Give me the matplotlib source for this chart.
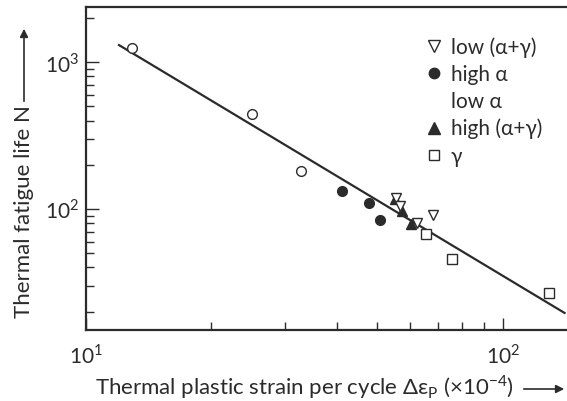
import matplotlib
matplotlib.use("Agg")
import matplotlib.pyplot as plt
from matplotlib.lines import Line2D
from matplotlib.ticker import LogLocator, NullFormatter

plt.rcParams['font.family'] = ['Lato', 'DejaVu Sans']
plt.rcParams['mathtext.fontset'] = 'custom'
plt.rcParams['mathtext.rm'] = 'Lato'

INK = "#2b2b2b"

# data (strain x1e-4, cycles)
low_a_x = [12.9, 25.0, 32.8]
low_a_y = [1245, 443, 181]

high_a_x = [41.1, 47.7, 50.7]
high_a_y = [132, 110, 84]

high_ag_x = [55.1, 57.3, 60.1]
high_ag_y = [117, 97, 79]

low_ag_x = [55.4, 56.6, 62.2, 67.9]
low_ag_y = [119, 105, 80, 91]

gamma_x = [65.3, 75.5, 128.9]
gamma_y = [67.6, 45.7, 26.8]

fit_x = [12.0, 140.8]
fit_y = [1305, 19.6]

fig = plt.figure(figsize=(5.67, 4.01), dpi=100)
ax = fig.add_axes([86 / 567, 71 / 401, 490 / 567, 323 / 401])

ax.plot(fit_x, fit_y, color=INK, lw=1.6, zorder=2)
ax.plot(low_a_x, low_a_y, 'o', ms=7, mfc='white', mec=INK, mew=1.0, zorder=3)
ax.plot(high_a_x, high_a_y, 'o', ms=7, mfc=INK, mec=INK, zorder=3)
ax.plot(high_ag_x, high_ag_y, '^', ms=7, mfc=INK, mec=INK, zorder=3)
ax.plot(low_ag_x, low_ag_y, 'v', ms=7.5, mfc='white', mec=INK, mew=1.0, zorder=4)
ax.plot(gamma_x, gamma_y, 's', ms=7, mfc='white', mec=INK, mew=1.0, zorder=3)

ax.set_xscale('log')
ax.set_yscale('log')
ax.set_xlim(10, 150)
ax.set_ylim(15, 2370)

ax.set_xticks([10, 100])
ax.set_xticklabels(['$10^1$', '$10^2$'])
ax.set_yticks([100, 1000])
ax.set_yticklabels(['$10^2$', '$10^3$'])
ax.xaxis.set_minor_locator(LogLocator(base=10, subs=range(2, 10)))
ax.yaxis.set_minor_locator(LogLocator(base=10, subs=range(2, 10)))
ax.xaxis.set_minor_formatter(NullFormatter())
ax.yaxis.set_minor_formatter(NullFormatter())
ax.tick_params(which='both', direction='in', color=INK, labelcolor=INK,
               labelsize=15, width=1.0)
ax.tick_params(which='major', length=9)
ax.tick_params(which='minor', length=6)
ax.tick_params(axis='x', which='major', pad=10)
ax.tick_params(axis='y', which='major', pad=5)
for s in ax.spines.values():
    s.set_color(INK)
    s.set_linewidth(1.6)

handles = [
    Line2D([], [], ls='none', marker='v', ms=8, mfc='white', mec=INK),
    Line2D([], [], ls='none', marker='o', ms=7.5, mfc=INK, mec=INK),
    Line2D([], [], ls='none', marker='o', ms=7, mfc='none', mec='none'),
    Line2D([], [], ls='none', marker='^', ms=8, mfc=INK, mec=INK),
    Line2D([], [], ls='none', marker='s', ms=7.5, mfc='white', mec=INK),
]
labels = ['low (α+γ)', 'high α', 'low α', 'high (α+γ)', 'γ']
leg = ax.legend(handles, labels, loc='upper left', frameon=False,
                bbox_to_anchor=(428 / 567, 1 - 37 / 401), bbox_transform=fig.transFigure,
                fontsize=15, handlelength=0.6, handletextpad=0.5,
                labelspacing=0.34, borderpad=0, borderaxespad=0)
for t in leg.get_texts():
    t.set_color(INK)

fig.text(95 / 567, 1 - 387 / 401, 'Thermal plastic strain per cycle Δε$_\\mathrm{P}$ (×10$^{-4}$)',
         fontsize=16, color=INK, va='center', ha='left')
ax.annotate('', xy=(567 / 567, 1 - 389 / 401), xytext=(521 / 567, 1 - 389 / 401),
            xycoords='figure fraction',
            arrowprops=dict(arrowstyle='-|>', color=INK, lw=1.2, mutation_scale=12))
fig.text(24 / 567, 1 - 212 / 401, 'Thermal fatigue life N', rotation=90,
         fontsize=16, color=INK, va='center', ha='center')
ax.annotate('', xy=(24 / 567, 1 - 26 / 401), xytext=(24 / 567, 1 - 104 / 401),
            xycoords='figure fraction',
            arrowprops=dict(arrowstyle='-|>', color=INK, lw=1.2, mutation_scale=12))

fig.savefig('out.png', dpi=100)
